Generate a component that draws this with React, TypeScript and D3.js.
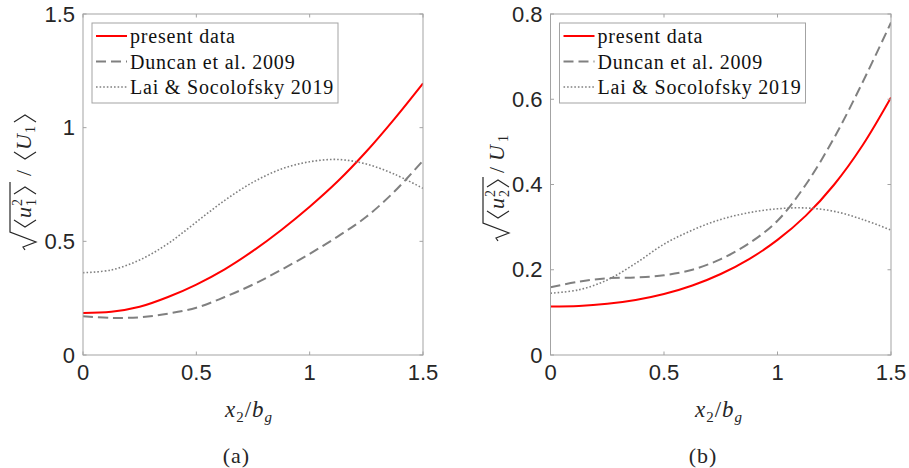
import React from "react";
import * as d3 from "d3";

// ---- data ----
const xPos = [0, 0.125, 0.25, 0.375, 0.5, 0.625, 0.75, 0.875, 1.0, 1.125, 1.25, 1.375, 1.5];

const leftPresent = [0.185, 0.19, 0.212, 0.255, 0.31, 0.377, 0.458, 0.55, 0.652, 0.765, 0.895, 1.04, 1.195];
const leftDuncan = [0.17, 0.163, 0.166, 0.182, 0.208, 0.255, 0.31, 0.375, 0.445, 0.522, 0.608, 0.72, 0.855];
const leftLai = [0.362, 0.374, 0.418, 0.49, 0.585, 0.68, 0.76, 0.818, 0.85, 0.86, 0.84, 0.795, 0.733];

const rightPresent = [0.114, 0.115, 0.12, 0.129, 0.143, 0.163, 0.19, 0.225, 0.27, 0.327, 0.4, 0.492, 0.604];
const rightDuncan = [0.159, 0.172, 0.18, 0.182, 0.187, 0.2, 0.225, 0.262, 0.315, 0.4, 0.51, 0.64, 0.78];
const rightLai = [0.145, 0.153, 0.176, 0.215, 0.26, 0.293, 0.318, 0.334, 0.343, 0.345, 0.337, 0.318, 0.293];

const xTicks = [0, 0.5, 1, 1.5];
const leftYTicks = [0, 0.5, 1, 1.5];
const rightYTicks = [0, 0.2, 0.4, 0.6, 0.8];

const seriesNames = ["present data", "Duncan et al. 2009", "Lai & Socolofsky 2019"];

// ---- styles ----
const AXIS = "#a3a3a3";
const TXT = "#262626";
const SANS = "'Liberation Sans', Arial, sans-serif";
const SERIF = "'Liberation Serif', 'Times New Roman', serif";
const styles = [
  { stroke: "#ff0000", width: 2, dash: "" },
  { stroke: "#808080", width: 2, dash: "10,5" },
  { stroke: "#808080", width: 1.6, dash: "1.6,2" },
];

const TOP = 14;
const BOT = 355;

function Panel({ x0, x1, yMax, yTicks, data }) {
  const x = d3.scaleLinear().domain([0, 1.5]).range([x0, x1]);
  const y = d3.scaleLinear().domain([0, yMax]).range([BOT, TOP]);
  const line = d3
    .line<number>()
    .x((_, i) => x(xPos[i]))
    .y((d) => y(d))
    .curve(d3.curveCatmullRom.alpha(0.5));
  const tl = 3.5;
  const lx = x0 + 9;
  const ly = TOP + 9;
  return (
    <g>
      <rect x={x0} y={TOP} width={x1 - x0} height={BOT - TOP} fill="#fff" />
      <defs>
        <clipPath id={`clip${Math.round(x0)}`}>
          <rect x={x0} y={TOP} width={x1 - x0} height={BOT - TOP} />
        </clipPath>
      </defs>
      <g clipPath={`url(#clip${Math.round(x0)})`}>
        {data.map((s, i) => (
          <path
            key={i}
            d={line(s) || ""}
            fill="none"
            stroke={styles[i].stroke}
            strokeWidth={styles[i].width}
            strokeDasharray={styles[i].dash || undefined}
          />
        ))}
      </g>
      <rect x={x0} y={TOP} width={x1 - x0} height={BOT - TOP} fill="none" stroke={AXIS} strokeWidth={1} />
      {xTicks.map((t) => (
        <g key={"x" + t}>
          <line x1={x(t)} x2={x(t)} y1={BOT} y2={BOT - tl} stroke={AXIS} />
          <line x1={x(t)} x2={x(t)} y1={TOP} y2={TOP + tl} stroke={AXIS} />
          <text x={x(t)} y={380} textAnchor="middle" fontFamily={SANS} fontSize={22} fill={TXT}>
            {String(t)}
          </text>
        </g>
      ))}
      {yTicks.map((t) => (
        <g key={"y" + t}>
          <line x1={x0} x2={x0 + tl} y1={y(t)} y2={y(t)} stroke={AXIS} />
          <line x1={x1} x2={x1 - tl} y1={y(t)} y2={y(t)} stroke={AXIS} />
          <text x={x0 - 8} y={y(t) + 7.5} textAnchor="end" fontFamily={SANS} fontSize={22} fill={TXT}>
            {String(t)}
          </text>
        </g>
      ))}
      <rect x={lx} y={ly} width={246} height={80} fill="#fff" stroke={AXIS} strokeWidth={1} />
      {seriesNames.map((n, i) => {
        const cy = ly + 13 + i * 25.5;
        return (
          <g key={n}>
            <line
              x1={lx + 4}
              x2={lx + 35}
              y1={cy}
              y2={cy}
              stroke={styles[i].stroke}
              strokeWidth={styles[i].width}
              strokeDasharray={styles[i].dash || undefined}
            />
            <text x={lx + 38} y={cy + 7} fontFamily={SERIF} fontSize={20} letterSpacing={0.8} fill="#111">
              {n}
            </text>
          </g>
        );
      })}
    </g>
  );
}

function Bracket({ x, open }) {
  const d = open
    ? `M${x + 8},-17 L${x + 1},-6 L${x + 8},5`
    : `M${x},-17 L${x + 7},-6 L${x},5`;
  return <path d={d} fill="none" stroke={TXT} strokeWidth={1.1} />;
}

function YLabelLeft() {
  return (
    <g transform="translate(31,250) rotate(-90)" fill={TXT} fontFamily={SERIF}>
      <path d="M0,-6 L3,-8 L8,5 L18,-21 L68,-21" fill="none" stroke={TXT} strokeWidth={1.2} />
      <Bracket x={22} open />
      <text x={32} y={0} fontSize={22} fontStyle="italic">u</text>
      <text x={44} y={-9} fontSize={14}>2</text>
      <text x={44} y={5} fontSize={14}>1</text>
      <Bracket x={56} open={false} />
      <text x={74} y={0} fontSize={22}>/</text>
      <Bracket x={90} open />
      <text x={100} y={0} fontSize={22} fontStyle="italic">U</text>
      <text x={117} y={4} fontSize={14}>1</text>
      <Bracket x={128} open={false} />
    </g>
  );
}

function YLabelRight() {
  return (
    <g transform="translate(504,241) rotate(-90)" fill={TXT} fontFamily={SERIF}>
      <path d="M0,-6 L3,-8 L8,5 L18,-21 L64,-21" fill="none" stroke={TXT} strokeWidth={1.2} />
      <Bracket x={22} open />
      <text x={32} y={0} fontSize={22} fontStyle="italic">u</text>
      <text x={44} y={-9} fontSize={14}>2</text>
      <text x={44} y={5} fontSize={14}>2</text>
      <Bracket x={54} open={false} />
      <text x={68} y={0} fontSize={22}>/</text>
      <text x={80} y={0} fontSize={22} fontStyle="italic">U</text>
      <text x={99} y={4} fontSize={14}>1</text>
    </g>
  );
}

function XLabel({ cx }) {
  return (
    <text x={cx} y={417} textAnchor="middle" fontFamily={SERIF} fontSize={23} letterSpacing={1} fill={TXT}>
      <tspan fontStyle="italic">x</tspan>
      <tspan fontSize={15} dy={5}>2</tspan>
      <tspan dy={-5}>/</tspan>
      <tspan fontStyle="italic">b</tspan>
      <tspan fontSize={15} fontStyle="italic" dy={5}>g</tspan>
    </text>
  );
}

export default function App() {
  return (
    <svg
      width={909}
      height={468}
      style={{ position: "absolute", left: 0, top: 0, background: "#fff" }}
    >
      <rect width={909} height={468} fill="#fff" />
      <Panel x0={83} x1={423} yMax={1.5} yTicks={leftYTicks} data={[leftPresent, leftDuncan, leftLai]} />
      <Panel x0={550.5} x1={891} yMax={0.8} yTicks={rightYTicks} data={[rightPresent, rightDuncan, rightLai]} />
      <YLabelLeft />
      <YLabelRight />
      <XLabel cx={249} />
      <XLabel cx={719} />
      <text x={236.5} y={463} textAnchor="middle" fontFamily={SERIF} fontSize={22} letterSpacing={1} fill={TXT}>(a)</text>
      <text x={703} y={463} textAnchor="middle" fontFamily={SERIF} fontSize={22} letterSpacing={1} fill={TXT}>(b)</text>
    </svg>
  );
}
